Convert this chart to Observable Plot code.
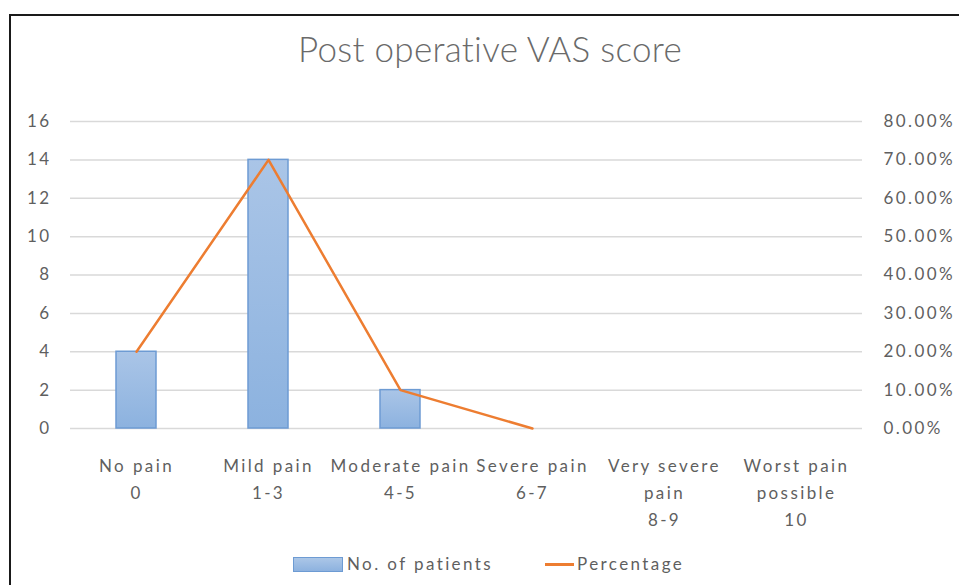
<!DOCTYPE html>
<html><head><meta charset="utf-8">
<script src="https://cdn.jsdelivr.net/npm/d3@7"></script>
<script src="https://cdn.jsdelivr.net/npm/@observablehq/plot@0.6"></script>
<style>
body{margin:0;background:#fff;font-family:Lato,"Open Sans",sans-serif;color:#5f5f5f;}
#frame{position:absolute;left:9px;top:14px;width:1000px;height:620px;border:2px solid #1a1a1a;box-sizing:border-box;}
#title{position:absolute;left:12px;top:27px;width:956px;text-align:center;font-size:35px;font-weight:300;letter-spacing:0.3px;color:#6a6a6a;}
#chart{position:absolute;left:12px;top:100px;}
#chart svg text{letter-spacing:2.4px;}
.lg{position:absolute;font-size:17px;letter-spacing:2.4px;color:#5f5f5f;white-space:nowrap;}
</style></head>
<body>
<div id="frame"></div>
<div id="title">Post operative VAS score</div>
<div id="chart"></div>
<div class="lg" style="left:293px;top:557px;width:50px;height:15px;background:linear-gradient(#abc6e7,#8db2df);border:1px solid #6d9bd3;box-sizing:border-box;"></div>
<div class="lg" style="left:347px;top:553px;">No. of patients</div>
<div class="lg" style="left:545px;top:563px;width:29px;height:3px;background:#ed7d31;"></div>
<div class="lg" style="left:577px;top:553px;">Percentage</div>
<script>
const categories = ["No pain\n0","Mild pain\n1-3","Moderate pain\n4-5","Severe pain\n6-7","Very severe\npain\n8-9","Worst pain\npossible\n10"];
const patients = [4,14,2,0,0,0];
const percentage = [20,70,10,0,null,null];
const leftTicks = [0,2,4,6,8,10,12,14,16];
const rightTickLabels = ["0.00%","10.00%","20.00%","30.00%","40.00%","50.00%","60.00%","70.00%","80.00%"];

const barData = categories.map((c,i)=>({cat:c, n:patients[i]})).filter(d=>d.n>0);
const lineData = categories.map((c,i)=>({cat:c, pct:percentage[i]}));

const svg = Plot.plot({
  width: 945,
  height: 440,
  marginLeft: 58,
  marginRight: 95,
  marginTop: 21,
  marginBottom: 112,
  style: {fontSize: "17px", fontFamily: "Lato, 'Open Sans', sans-serif", color: "#5f5f5f", background: "transparent", overflow: "visible"},
  x: {domain: categories, paddingInner: 0.7, paddingOuter: 0.35, label: null},
  y: {domain: [0,16], label: null},
  marks: [
    Plot.gridY(leftTicks, {stroke: "#d9d9d9", strokeOpacity: 1, strokeWidth: 1.5}),
    Plot.barY(barData, {x: "cat", y: "n", fill: "url(#barGrad)", stroke: "#6d9bd3", strokeWidth: 1.5}),
    Plot.line(lineData, {x: "cat", y: d => d.pct == null ? null : d.pct/5, stroke: "#ed7d31", strokeWidth: 2.5}),
    Plot.axisY(leftTicks, {anchor: "left", tickSize: 0, tickPadding: 19, label: null, fontSize: 17}),
    Plot.axisY(leftTicks, {anchor: "right", tickSize: 0, tickPadding: 21, label: null, fontSize: 17,
      tickFormat: d => rightTickLabels[leftTicks.indexOf(d)]}),
    Plot.axisX({tickSize: 0, tickPadding: 24, label: null, fontSize: 17, lineHeight: 1.6})
  ]
});
const defs = d3.select(svg).insert("defs", ":first-child");
const g = defs.append("linearGradient").attr("id","barGrad").attr("x1",0).attr("x2",0).attr("y1",0).attr("y2",1);
g.append("stop").attr("offset","0%").attr("stop-color","#aac5e7");
g.append("stop").attr("offset","100%").attr("stop-color","#8cb2df");
document.getElementById("chart").appendChild(svg);
</script>
</body></html>
